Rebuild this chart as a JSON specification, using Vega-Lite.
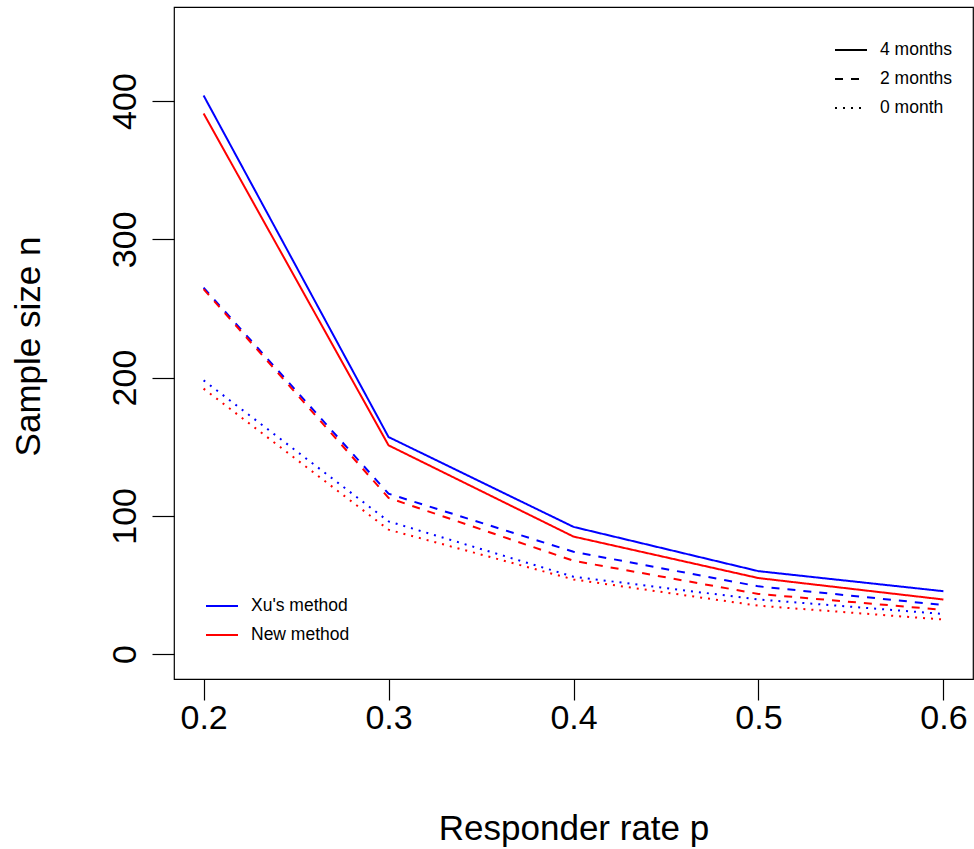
{
  "$schema": "https://vega.github.io/schema/vega-lite/v6.json",
  "width": 799,
  "height": 672,
  "autosize": {"type": "none"},
  "padding": {"left": 174, "top": 7, "right": 1, "bottom": 170},
  "background": "white",
  "config": {
    "view": {"stroke": "black", "strokeWidth": 1.2},
    "font": "Liberation Sans",
    "axis": {"grid": false, "domain": false, "tickColor": "black", "tickWidth": 1.2, "labelColor": "black", "titleColor": "black", "labelFont": "Liberation Sans", "titleFont": "Liberation Sans", "titleFontWeight": "normal", "labelFontSize": 34, "titleFontSize": 35},
    "legend": {"symbolType": "stroke", "labelFont": "Liberation Sans", "labelFontSize": 17.5, "labelColor": "black", "padding": 0, "symbolStrokeWidth": 2, "symbolSize": 1024, "rowPadding": 3, "labelOffset": 12}
  },
  "data": {
    "values": [
      {"p": 0.2, "n": 404, "method": "Xu's method", "period": "4 months"},
      {"p": 0.3, "n": 157, "method": "Xu's method", "period": "4 months"},
      {"p": 0.4, "n": 92, "method": "Xu's method", "period": "4 months"},
      {"p": 0.5, "n": 60, "method": "Xu's method", "period": "4 months"},
      {"p": 0.6, "n": 45.5, "method": "Xu's method", "period": "4 months"},
      {"p": 0.2, "n": 391, "method": "New method", "period": "4 months"},
      {"p": 0.3, "n": 151, "method": "New method", "period": "4 months"},
      {"p": 0.4, "n": 85, "method": "New method", "period": "4 months"},
      {"p": 0.5, "n": 55, "method": "New method", "period": "4 months"},
      {"p": 0.6, "n": 39.5, "method": "New method", "period": "4 months"},
      {"p": 0.2, "n": 265, "method": "Xu's method", "period": "2 months"},
      {"p": 0.3, "n": 116, "method": "Xu's method", "period": "2 months"},
      {"p": 0.4, "n": 74, "method": "Xu's method", "period": "2 months"},
      {"p": 0.5, "n": 49, "method": "Xu's method", "period": "2 months"},
      {"p": 0.6, "n": 35.5, "method": "Xu's method", "period": "2 months"},
      {"p": 0.2, "n": 264, "method": "New method", "period": "2 months"},
      {"p": 0.3, "n": 113, "method": "New method", "period": "2 months"},
      {"p": 0.4, "n": 67.5, "method": "New method", "period": "2 months"},
      {"p": 0.5, "n": 43.5, "method": "New method", "period": "2 months"},
      {"p": 0.6, "n": 32, "method": "New method", "period": "2 months"},
      {"p": 0.2, "n": 198, "method": "Xu's method", "period": "0 month"},
      {"p": 0.3, "n": 96, "method": "Xu's method", "period": "0 month"},
      {"p": 0.4, "n": 56, "method": "Xu's method", "period": "0 month"},
      {"p": 0.5, "n": 39.5, "method": "Xu's method", "period": "0 month"},
      {"p": 0.6, "n": 29, "method": "Xu's method", "period": "0 month"},
      {"p": 0.2, "n": 192, "method": "New method", "period": "0 month"},
      {"p": 0.3, "n": 90, "method": "New method", "period": "0 month"},
      {"p": 0.4, "n": 54, "method": "New method", "period": "0 month"},
      {"p": 0.5, "n": 35, "method": "New method", "period": "0 month"},
      {"p": 0.6, "n": 25, "method": "New method", "period": "0 month"}
    ]
  },
  "mark": {"type": "line", "strokeWidth": 2, "clip": true},
  "encoding": {
    "x": {
      "field": "p", "type": "quantitative",
      "scale": {"domain": [0.184, 0.616], "nice": false, "zero": false},
      "axis": {"values": [0.2, 0.3, 0.4, 0.5, 0.6], "format": ".1f", "tickSize": 21, "labelPadding": 1, "labelBaseline": "top", "title": "Responder rate p", "titleX": 399.5, "titleY": 149, "titleBaseline": "middle", "titleAlign": "center"}
    },
    "y": {
      "field": "n", "type": "quantitative",
      "scale": {"domain": [-18, 468], "nice": false, "zero": false},
      "axis": {"values": [0, 100, 200, 300, 400], "tickSize": 22, "labelAngle": -90, "labelAlign": "center", "labelBaseline": "alphabetic", "labelPadding": 17, "title": "Sample size n", "titleX": -146, "titleY": 339, "titleAngle": -90, "titleBaseline": "middle", "titleAlign": "center"}
    },
    "color": {
      "field": "method", "type": "nominal",
      "scale": {"domain": ["Xu's method", "New method"], "range": ["#0000ff", "#ff0000"]},
      "legend": {"title": null, "orient": "none", "legendX": 31, "legendY": 582}
    },
    "strokeDash": {
      "field": "period", "type": "nominal",
      "scale": {"domain": ["4 months", "2 months", "0 month"], "range": [[1, 0], [8, 8], [2, 6]]},
      "legend": {"title": null, "orient": "none", "legendX": 660, "legendY": 26, "symbolStrokeColor": "black"}
    },
    "order": {"field": "p", "type": "quantitative"}
  }
}
